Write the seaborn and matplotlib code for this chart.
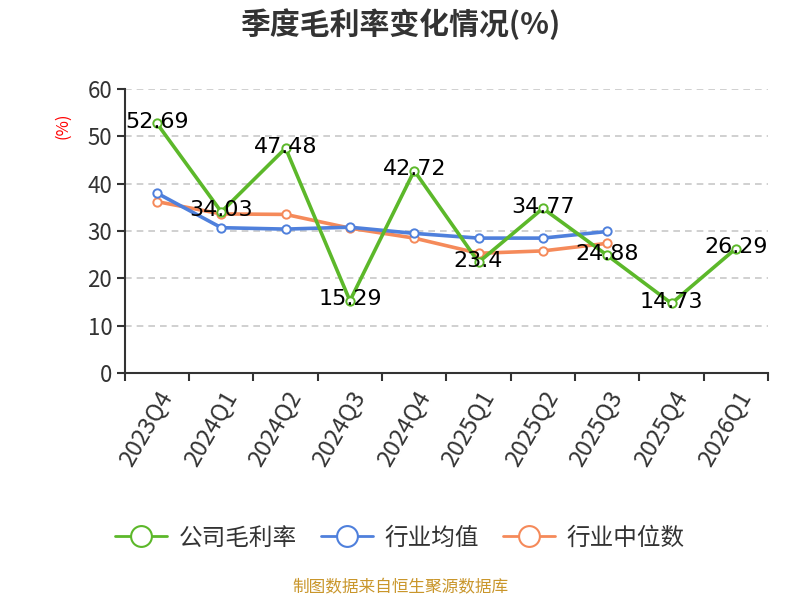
import numpy as np
import pandas as pd
import matplotlib
matplotlib.use("Agg")
import matplotlib.pyplot as plt
import seaborn as sns
from matplotlib.lines import Line2D

quarters = ["2023Q4", "2024Q1", "2024Q2", "2024Q3", "2024Q4",
            "2025Q1", "2025Q2", "2025Q3", "2025Q4", "2026Q1"]
company = [52.69, 34.03, 47.48, 15.29, 42.72, 23.4, 34.77, 24.88, 14.73, 26.29]
industry_mean = [38.0, 30.7, 30.4, 30.8, 29.5, 28.5, 28.5, 29.9]
industry_median = [36.2, 33.6, 33.5, 30.6, 28.5, 25.3, 25.8, 27.4]

green = "#5cb82a"
blue = "#4f80dc"
orange = "#f58a5a"

sns.set_style("white")
plt.rcParams['font.family'] = ['Noto Sans CJK SC', 'DejaVu Sans']

fig = plt.figure(figsize=(8, 6), dpi=100)
ax = fig.add_axes([0.156, 0.378, 0.804, 0.474])

x_all = np.arange(len(quarters))
series = [(company, green), (industry_mean, blue), (industry_median, orange)]
for vals, col in series[::-1]:
    sns.lineplot(x=x_all[:len(vals)], y=vals, ax=ax, color=col, linewidth=2.6,
                 marker="o", markersize=6, markerfacecolor="white",
                 markeredgecolor=col, markeredgewidth=1.4)

# data labels for company series
for xi, v in zip(x_all, company):
    ax.text(xi, v + 0.3, f"{v:g}", ha="center", va="center", fontsize=16,
            color="black", family=['DejaVu Sans'])

ax.set_xlim(-0.5, len(quarters) - 0.5)
ax.set_ylim(0, 60)
ax.set_yticks(np.arange(0, 61, 10))
ax.tick_params(axis="y", labelsize=16, labelcolor="#333333", length=6,
               width=1.5, color="#333333", left=True, pad=3)
ax.set_xticks(x_all)
ax.set_xticklabels(quarters, rotation=60, ha="right", rotation_mode="anchor",
                   fontsize=17, color="#333333")
ax.tick_params(axis="x", length=0, pad=10)
ax.set_xticks(np.arange(-0.5, len(quarters), 1), minor=True)
ax.tick_params(axis="x", which="minor", length=6, width=1.5, color="#333333",
               bottom=True)

for yv in range(10, 61, 10):
    ax.axhline(yv, color="#c8c8c8", linestyle=(0, (4, 3)), linewidth=1.2, zorder=0)

for s in ["top", "right"]:
    ax.spines[s].set_visible(False)
for s in ["left", "bottom"]:
    ax.spines[s].set_color("#333333")
    ax.spines[s].set_linewidth(1.5)
ax.set_xlabel("")

fig.text(0.078, 0.79, "(%)", color="red", fontsize=12, rotation=90,
         ha="center", va="center")
fig.text(0.5, 0.96, "季度毛利率变化情况(%)", fontsize=21.5, fontweight="bold",
         color="#333333", ha="center", va="center")

handles = [Line2D([0], [0], color=c, linewidth=2, marker="o", markersize=15,
                  markerfacecolor="white", markeredgecolor=c, markeredgewidth=1.5)
           for c in (green, blue, orange)]
fig.legend(handles, ["公司毛利率", "行业均值", "行业中位数"], loc="center",
           bbox_to_anchor=(0.5, 0.103), ncol=3, frameon=False, fontsize=17,
           handlelength=2.2, columnspacing=1.0, handletextpad=0.5,
           labelcolor="#333333")

fig.text(0.5, 0.02, "制图数据来自恒生聚源数据库", fontsize=12, color="#c9962b",
         ha="center", va="center")

fig.savefig("out.png", dpi=100)
